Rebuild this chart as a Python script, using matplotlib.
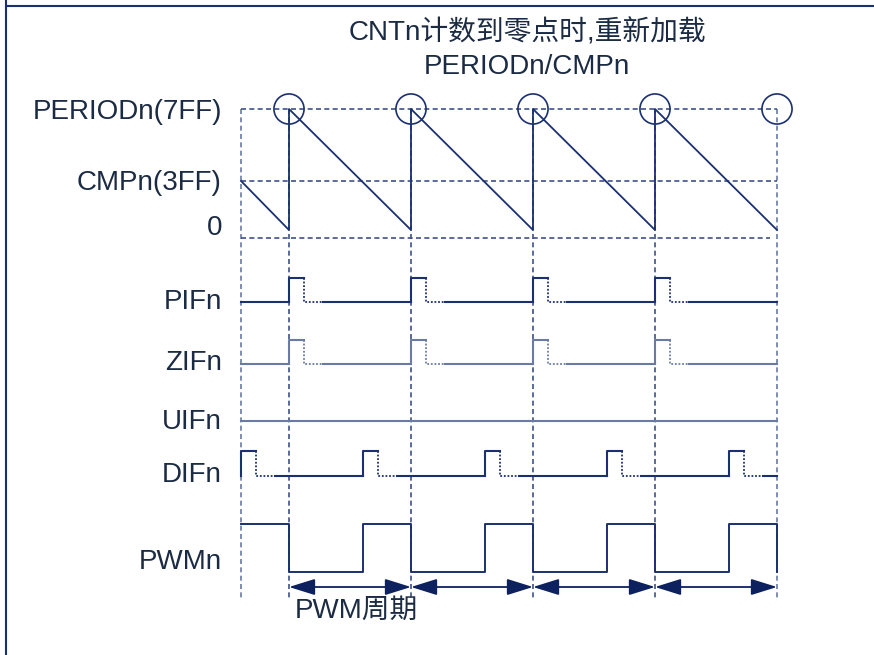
import matplotlib
matplotlib.use("Agg")
import matplotlib.pyplot as plt

plt.rcParams['font.family'] = ['Liberation Sans', 'Noto Sans CJK SC', 'DejaVu Sans']

# ---- timing data (time in PWM periods, t=0 is the first reload) ----
t_start = -0.393                      # left edge of the diagram
reload_t = [0, 1, 2, 3, 4]            # CNTn hits zero -> reload PERIODn/CMPn
cmp_t = [-0.393, 0.607, 1.607, 2.607, 3.607]   # CNTn == CMPn
cnt_t = [-0.393, 0, 0, 1, 1, 2, 2, 3, 3, 4]
cnt_v = [0.405, 0, 1, 0, 1, 0, 1, 0, 1, 0]     # counter, 1 = PERIODn(7FF)
cmp_level = 0.405
zero_level = -0.066
pwm_edges = [t_start, 0, 0.607, 1, 1.607, 2, 2.607, 3, 3.607, 4]
pwm_level = [1, 0, 1, 0, 1, 0, 1, 0, 1, 0]
pulse_w = 0.123
dot_w = 0.28

row_labels = ["PERIODn(7FF)", "CMPn(3FF)", "0", "PIFn", "ZIFn", "UIFn", "DIFn", "PWMn"]
row_label_y = [112, 183, 228, 302, 363, 422, 475, 562]

NAVY = "#1b3070"
DASH = "#3e5188"
LIGHT = "#6a7ba3"
TXT = "#1c2b44"
FS = 20

fig = plt.figure(figsize=(8.74, 6.55), dpi=100)
ax = fig.add_axes([0, 0, 1, 1])
px = 122.0                              # pixels per period
x0 = 289.0                              # pixel position of t=0
ax.set_xlim(-x0 / px, (874 - x0) / px)
ax.set_ylim(655, 0)
ax.axis("off")

# frame
ax.plot([-x0 / px + 6 / px] * 2, [0, 655], color=NAVY, lw=1.5)
ax.plot([-x0 / px + 6 / px, (874 - x0) / px], [6, 6], color=NAVY, lw=1.5)


def cy(v):
    return 230 - v * 121


dash = (0, (3, 2))
# guide lines
for t in [t_start] + reload_t:
    ax.plot([t, t], [cy(1), 599], color=LIGHT if t in (t_start, 4) else DASH,
            lw=1.2, ls=dash)
ax.plot([t_start, reload_t[-1]], [cy(1), cy(1)], color=DASH, lw=1.2, ls=dash)
ax.plot([t_start, reload_t[-1]], [cy(cmp_level)] * 2, color=DASH, lw=1.2, ls=dash)
ax.plot([t_start, reload_t[-1] - 0.06], [cy(zero_level)] * 2, color=DASH, lw=1.2, ls=dash)

# counter
ax.plot(cnt_t, [cy(v) for v in cnt_v], color=NAVY, lw=1.3)
ax.scatter(reload_t, [cy(1)] * len(reload_t), s=470, facecolors="none",
           edgecolors=NAVY, linewidths=1.2, zorder=5)


def flag(pulses, base, high, color):
    # solid baseline segments between pulses
    segs = [t_start] + [p for p in pulses] + [reload_t[-1]]
    prev = t_start
    for p in pulses:
        if p > prev:
            ax.plot([prev, p], [base, base], color=color, lw=1.5)
        ax.plot([p, p, p + pulse_w], [base, high, high], color=color, lw=1.5)
        ax.plot([p + pulse_w, p + pulse_w, p + dot_w], [high, base, base],
                color=color, lw=1.3, ls=(0, (1, 1)))
        prev = p + dot_w
    ax.plot([prev, reload_t[-1]], [base, base], color=color, lw=1.5)


flag(reload_t[:-1], 302, 278, NAVY)
flag(reload_t[:-1], 364, 340, LIGHT)
ax.plot([t_start, reload_t[-1]], [421, 421], color=LIGHT, lw=1.5)
flag(cmp_t, 476, 451, NAVY)

# PWM
ax.step(pwm_edges, [572 - 48 * l for l in pwm_level], where="post", color=NAVY, lw=1.4)

# period arrows
for a, b in zip(reload_t[:-1], reload_t[1:]):
    ax.annotate("", xy=(b, 587), xytext=(a, 587),
                arrowprops=dict(arrowstyle="<|-|>,head_length=1.6,head_width=0.5",
                                mutation_scale=10, color="#0d215e", lw=1.3,
                                shrinkA=0, shrinkB=0))

# text
for lab, y in zip(row_labels, row_label_y):
    ax.text((222 - x0) / px, y, lab, ha="right", va="center", fontsize=FS, color=TXT)
ax.text((527 - x0) / px, 33, "CNTn计数到零点时,重新加载", ha="center", va="center",
        fontsize=FS, color=TXT)
ax.text((527 - x0) / px, 67, "PERIODn/CMPn", ha="center", va="center", fontsize=FS, color=TXT)
ax.text((295 - x0) / px, 611, "PWM周期", ha="left", va="center", fontsize=FS, color=TXT)

fig.savefig("out.png", dpi=100)
